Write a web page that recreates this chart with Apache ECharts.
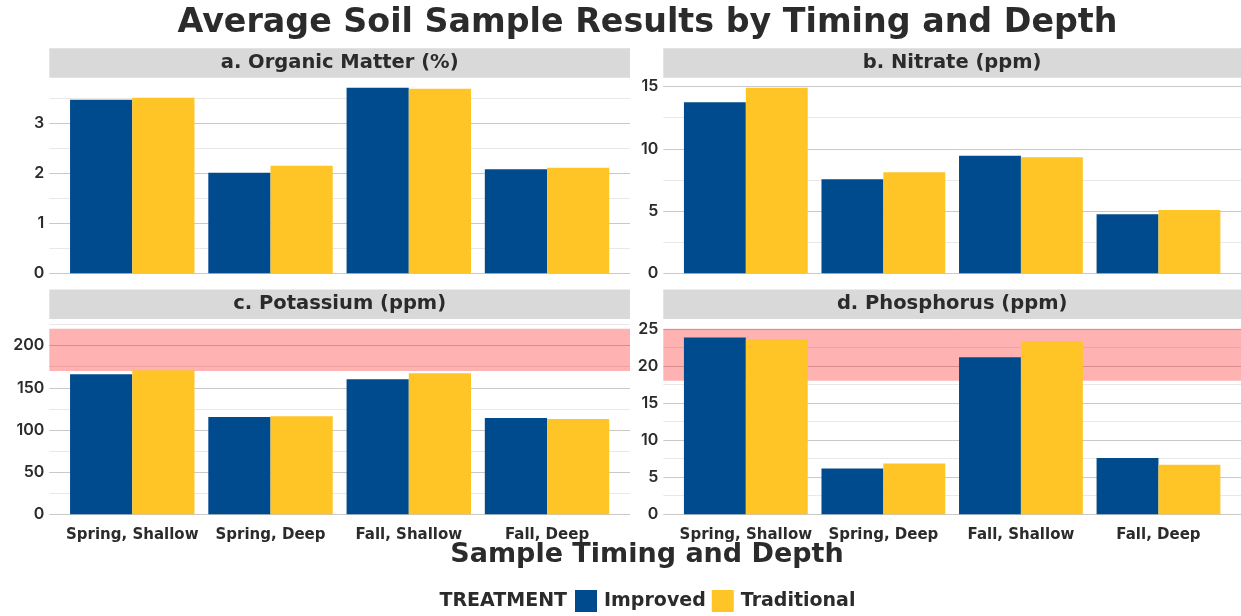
<!DOCTYPE html>
<html>
<head>
<meta charset="utf-8">
<script src="https://cdn.jsdelivr.net/npm/echarts@6/dist/echarts.min.js"></script>
<style>
html,body{margin:0;padding:0;background:#fff;}
#chart{width:1241px;height:616px;}
</style>
</head>
<body>
<div id="chart"></div>
<script>
// ---------- data ----------
const categories = ['Spring, Shallow', 'Spring, Deep', 'Fall, Shallow', 'Fall, Deep'];
const organicImproved = [3.47, 2.01, 3.71, 2.08];
const organicTraditional = [3.51, 2.15, 3.69, 2.11];
const nitrateImproved = [13.73, 7.55, 9.45, 4.74];
const nitrateTraditional = [14.9, 8.11, 9.32, 5.08];
const potassiumImproved = [166, 115.4, 160.1, 114.2];
const potassiumTraditional = [170.8, 116.2, 167.2, 113];
const phosphorusImproved = [23.84, 6.18, 21.15, 7.58];
const phosphorusTraditional = [23.6, 6.86, 23.35, 6.68];
const potassiumBand = [170, 220];
const phosphorusBand = [18, 25];
const panelTitles = ['a. Organic Matter (%)', 'b. Nitrate (ppm)', 'c. Potassium (ppm)', 'd. Phosphorus (ppm)'];
const majorIntervals = [1, 5, 50, 5];
const seriesNames = ['Improved', 'Traditional'];

// ---------- style ----------
const BLUE = '#004B8D';
const YELLOW = '#FFC425';
const TEXT = '#2b2b2b';
const FONT = '"DejaVu Sans", sans-serif';
const TICKFONT = 'Inter, "Open Sans", sans-serif';
const MAJOR = '#c9c9c9';
const MINOR = '#e8e8e8';

const colX = [[49.3, 630], [663.3, 1241]];
const rowY = [{ strip: 48.3, top: 78.5 }, { strip: 289.5, top: 319.5 }];
const PLOT_H = 194.8;
const STRIP_H = 29.4;

const panels = [
  { imp: organicImproved, trad: organicTraditional, band: null },
  { imp: nitrateImproved, trad: nitrateTraditional, band: null },
  { imp: potassiumImproved, trad: potassiumTraditional, band: potassiumBand },
  { imp: phosphorusImproved, trad: phosphorusTraditional, band: phosphorusBand }
];

const grid = [], xAxis = [], yAxis = [], series = [], graphic = [];

panels.forEach((p, i) => {
  const col = i % 2, row = Math.floor(i / 2);
  const x0 = colX[col][0], x1 = colX[col][1];
  const w = x1 - x0;
  const unit = w / 4.2;
  const top = rowY[row].top;
  const maxData = Math.max(...p.imp, ...p.trad, ...(p.band || []));
  const yMax = maxData * 1.05;
  const major = majorIntervals[i];

  // background grid (full panel): gridlines, labels, band
  const bgIdx = grid.length;
  grid.push({ left: x0, top: top, width: w, height: PLOT_H, containLabel: false });
  xAxis.push({ gridIndex: bgIdx, type: 'value', min: 0, max: 1, show: false });
  yAxis.push({
    gridIndex: bgIdx, type: 'value', min: 0, max: yMax, interval: major / 2,
    axisLine: { show: false }, axisTick: { show: false },
    axisLabel: {
      show: true, margin: 5, color: TEXT, fontFamily: TICKFONT, fontSize: 16, fontWeight: 600,
      showMaxLabel: false,
      formatter: v => (Math.abs(v / major - Math.round(v / major)) < 1e-6 ? String(Math.round(v)) : '')
    },
    splitLine: { show: true, showMaxLine: false, lineStyle: { color: [MAJOR, MINOR], width: 1 } }
  });
  series.push({
    type: 'line', xAxisIndex: bgIdx, yAxisIndex: bgIdx, data: [], silent: true, z: 1,
    markArea: p.band ? {
      silent: true,
      itemStyle: { color: 'rgba(255,0,0,0.3)' },
      data: [[{ yAxis: p.band[0] }, { yAxis: p.band[1] }]]
    } : undefined
  });

  // bar grid (inner, matching discrete axis expansion of 0.6)
  const barIdx = grid.length;
  grid.push({ left: x0 + 0.1 * unit, top: top, width: 4 * unit, height: PLOT_H, containLabel: false });
  xAxis.push({
    gridIndex: barIdx, type: 'category', data: categories,
    axisLine: { show: false }, axisTick: { show: false }, splitLine: { show: false },
    axisLabel: {
      show: row === 1, margin: 13, interval: 0, color: TEXT, fontFamily: FONT, fontSize: 15, fontWeight: 'bold'
    }
  });
  yAxis.push({ gridIndex: barIdx, type: 'value', min: 0, max: yMax, show: false, splitLine: { show: false } });
  [p.imp, p.trad].forEach((vals, k) => {
    series.push({
      name: seriesNames[k], type: 'bar', xAxisIndex: barIdx, yAxisIndex: barIdx,
      data: vals, barGap: '0%', barCategoryGap: '10%', z: 3,
      itemStyle: { color: k === 0 ? BLUE : YELLOW }
    });
  });

  // strip header
  graphic.push({
    type: 'rect', left: x0, top: rowY[row].strip, z: 0,
    shape: { width: w, height: STRIP_H }, style: { fill: '#d9d9d9' }
  });
  graphic.push({
    type: 'text', x: x0 + w / 2, y: rowY[row].strip + STRIP_H / 2, z: 1,
    style: { text: panelTitles[i], fill: TEXT, font: 'bold 19.5px ' + FONT, textAlign: 'center', textVerticalAlign: 'middle' }
  });
});

graphic.push({
  type: 'text', x: 647.5, y: 23,
  style: { text: 'Average Soil Sample Results by Timing and Depth', fill: TEXT, font: 'bold 33.3px ' + FONT, textAlign: 'center', textVerticalAlign: 'middle' }
});
graphic.push({
  type: 'text', x: 647, y: 555,
  style: { text: 'Sample Timing and Depth', fill: TEXT, font: 'bold 27px ' + FONT, textAlign: 'center', textVerticalAlign: 'middle' }
});
graphic.push({
  type: 'text', x: 567, y: 601,
  style: { text: 'TREATMENT', fill: TEXT, font: 'bold 19px ' + FONT, textAlign: 'right', textVerticalAlign: 'middle' }
});

const chart = echarts.init(document.getElementById('chart'), null, { renderer: 'canvas' });
chart.setOption({
  animation: false,
  backgroundColor: '#ffffff',
  legend: {
    data: seriesNames, left: 575, top: 590, padding: 0, itemWidth: 22, itemHeight: 22, itemGap: 6,
    icon: 'rect',
    textStyle: { color: TEXT, fontFamily: FONT, fontSize: 19, fontWeight: 'bold', padding: [0, 0, 0, 2] }
  },
  grid, xAxis, yAxis, series, graphic
});
</script>
</body>
</html>
